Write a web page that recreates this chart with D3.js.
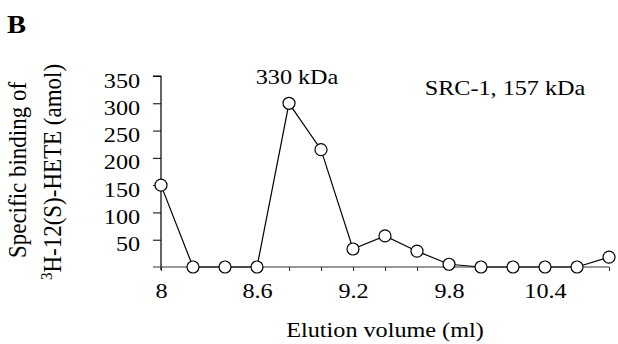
<!DOCTYPE html>
<html>
<head>
<meta charset="utf-8">
<script src="https://cdn.jsdelivr.net/npm/d3@7"></script>
<style>
  body { margin: 0; background: #fff; }
  svg { display: block; }
</style>
</head>
<body>
<div id="chart"></div>
<script>
// Elution profile: specific 3H-12(S)-HETE binding per fraction
const elution = [8.0, 8.2, 8.4, 8.6, 8.8, 9.0, 9.2, 9.4, 9.6, 9.8, 10.0, 10.2, 10.4, 10.6, 10.8];
const binding = [150, 0, 0, 0, 300, 215, 33, 57, 29, 5, 0, 0, 0, 0, 18];
const xTicks = [8.0, 8.2, 8.4, 8.6, 8.8, 9.0, 9.2, 9.4, 9.6, 9.8, 10.0, 10.2, 10.4, 10.6, 10.8];
const xLabelled = [8.0, 8.6, 9.2, 9.8, 10.4];
const yTicks = [0, 50, 100, 150, 200, 250, 300, 350];
const notes = [
  { x: 8.85, y: 350, text: '330 kDa' },
  { x: 10.15, y: 330, text: 'SRC-1, 157 kDa' }
];

const W = 618, H = 344;
const serif = '"Liberation Serif", "Times New Roman", serif';
const SX = 1.1;          // the scanned figure is a little wider than tall

const svg = d3.select('#chart').append('svg')
  .attr('width', W).attr('height', H)
  .attr('viewBox', `0 0 ${W} ${H}`);

const x = d3.scaleLinear().domain([8, 10.8]).range([161, 609]);
const y = d3.scaleLinear().domain([0, 350]).range([267, 76]);

// panel letter
svg.append('text')
  .attr('transform', `translate(7,33) scale(${SX},1)`)
  .attr('font-family', serif).attr('font-weight', 'bold')
  .attr('font-size', 26)
  .text('B');

// ---- y axis ----
const yAxis = svg.append('g')
  .attr('transform', `translate(${x(8)},0)`)
  .call(d3.axisLeft(y).tickValues(yTicks.slice(1)).tickSize(8).tickPadding(11)
    .tickFormat(d => d));
yAxis.select('.domain').attr('d', `M-8,${y(350)}H0V${y(0) + 3}`).attr('stroke', '#000').attr('stroke-width', 1.2);
yAxis.selectAll('.tick line').attr('stroke', '#000').attr('stroke-width', 1);
yAxis.selectAll('.tick text')
  .attr('font-family', serif).attr('font-size', 22).attr('fill', '#000')
  .attr('dy', '0.5em')
  .attr('transform', `scale(${SX},1)`);

// ---- x axis ----
const xAxis = svg.append('g')
  .attr('transform', `translate(0,${y(0)})`)
  .call(d3.axisBottom(x).tickValues(xTicks).tickSize(4).tickPadding(11)
    .tickFormat(d => xLabelled.some(v => Math.abs(v - d) < 1e-6) ? d3.format('~g')(d) : ''));
xAxis.select('.domain').attr('d', `M${x(8) - 8},0H${x(10.8)}`)
  .attr('stroke', '#333').attr('stroke-width', 1);
xAxis.selectAll('.tick line').attr('stroke', '#222').attr('stroke-width', 1);
xAxis.selectAll('.tick text')
  .attr('font-family', serif).attr('font-size', 22).attr('fill', '#000')
  .attr('transform', `scale(${SX},1)`);

// axis titles
svg.append('text')
  .attr('transform', `translate(385,337) scale(${SX},1)`)
  .attr('text-anchor', 'middle')
  .attr('font-family', serif).attr('font-size', 22)
  .text('Elution volume (ml)');

const yt = svg.append('g')
  .attr('font-family', serif).attr('font-size', 23)
  .attr('text-anchor', 'middle');
yt.append('text')
  .attr('transform', `translate(26,170) rotate(-90) scale(1,${SX})`)
  .text('Specific binding of');
const yt2 = yt.append('text')
  .attr('transform', `translate(61,172) rotate(-90) scale(1,${SX})`);
yt2.append('tspan').attr('font-size', 15).attr('dy', -8).text('3');
yt2.append('tspan').attr('dy', 8).text('H-12(S)-HETE (amol)');

// ---- series ----
const pts = elution.map((v, i) => ({ v, b: binding[i] }));

svg.append('path')
  .datum(pts)
  .attr('fill', 'none')
  .attr('stroke', '#000')
  .attr('stroke-width', 1.2)
  .attr('d', d3.line().x(d => x(d.v)).y(d => y(d.b)));

svg.append('g').selectAll('circle')
  .data(pts).join('circle')
  .attr('cx', d => x(d.v)).attr('cy', d => y(d.b))
  .attr('r', 6)
  .attr('fill', '#fff')
  .attr('stroke', '#000').attr('stroke-width', 1.2);

// annotations
svg.append('g').selectAll('text')
  .data(notes).join('text')
  .attr('transform', d => `translate(${x(d.x)},${y(d.y) + 8}) scale(${SX},1)`)
  .attr('text-anchor', 'middle')
  .attr('font-family', serif).attr('font-size', 22)
  .text(d => d.text);
</script>
</body>
</html>
